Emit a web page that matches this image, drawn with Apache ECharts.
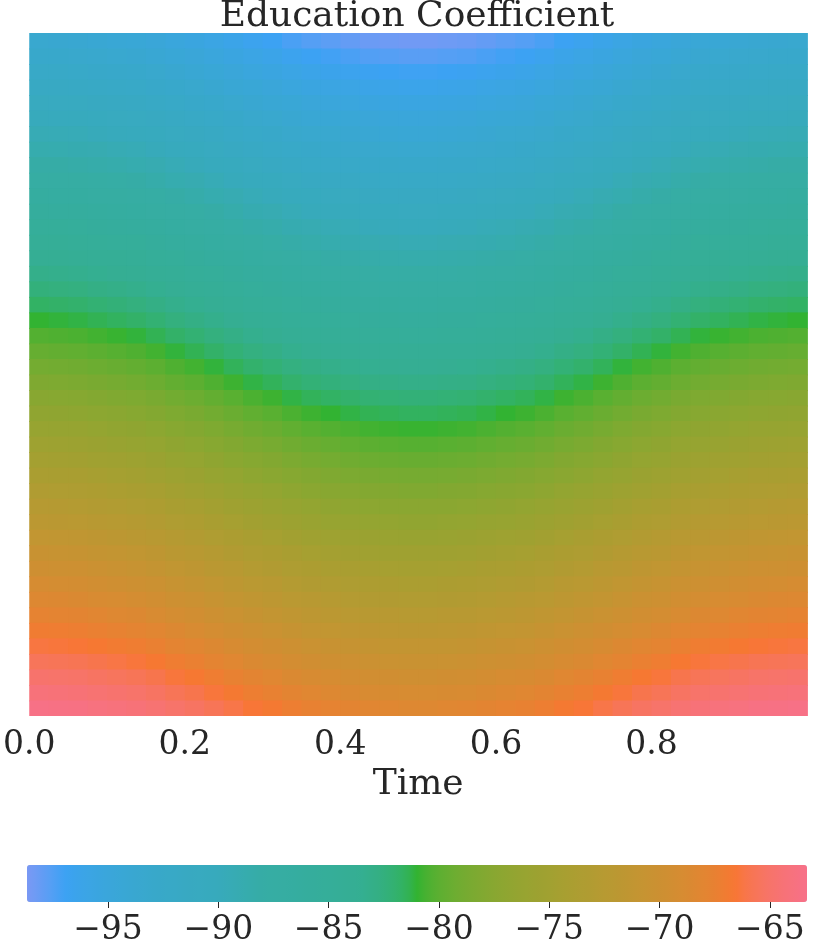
<!DOCTYPE html>
<html><head><meta charset="utf-8">
<script src="https://cdn.jsdelivr.net/npm/echarts@6/dist/echarts.min.js"></script>
<style>html,body{margin:0;padding:0;background:#fff}#c{width:813px;height:948px}</style>
</head><body><div id="c"></div>
<script>
const chartTitle = 'Education Coefficient';
const xName = 'Time';
const xCells = ['0.0125','0.0375','0.0625','0.0875','0.1125','0.1375','0.1625','0.1875','0.2125','0.2375','0.2625','0.2875','0.3125','0.3375','0.3625','0.3875','0.4125','0.4375','0.4625','0.4875','0.5125','0.5375','0.5625','0.5875','0.6125','0.6375','0.6625','0.6875','0.7125','0.7375','0.7625','0.7875','0.8125','0.8375','0.8625','0.8875','0.9125','0.9375','0.9625','0.9875'];
const yCells = [0,1,2,3,4,5,6,7,8,9,10,11,12,13,14,15,16,17,18,19,20,21,22,23,24,25,26,27,28,29,30,31,32,33,34,35,36,37,38,39,40,41,42,43];
const zRows = [
[-93.6,-93.7,-93.8,-94.0,-94.2,-94.4,-94.7,-95.1,-95.4,-95.8,-96.2,-96.6,-96.9,-97.3,-97.6,-97.8,-98.0,-98.2,-98.3,-98.4,-98.4,-98.3,-98.2,-98.0,-97.8,-97.6,-97.3,-96.9,-96.6,-96.2,-95.8,-95.4,-95.1,-94.7,-94.4,-94.2,-94.0,-93.8,-93.7,-93.6],
[-92.9,-93.0,-93.1,-93.3,-93.5,-93.7,-94.0,-94.4,-94.7,-95.1,-95.5,-95.9,-96.2,-96.6,-96.9,-97.1,-97.3,-97.5,-97.6,-97.7,-97.7,-97.6,-97.5,-97.3,-97.1,-96.9,-96.6,-96.2,-95.9,-95.5,-95.1,-94.7,-94.4,-94.0,-93.7,-93.5,-93.3,-93.1,-93.0,-92.9],
[-92.2,-92.3,-92.4,-92.6,-92.8,-93.0,-93.3,-93.7,-94.0,-94.4,-94.8,-95.2,-95.5,-95.9,-96.2,-96.4,-96.6,-96.8,-96.9,-97.0,-97.0,-96.9,-96.8,-96.6,-96.4,-96.2,-95.9,-95.5,-95.2,-94.8,-94.4,-94.0,-93.7,-93.3,-93.0,-92.8,-92.6,-92.4,-92.3,-92.2],
[-91.5,-91.6,-91.7,-91.9,-92.1,-92.3,-92.6,-93.0,-93.3,-93.7,-94.1,-94.5,-94.8,-95.2,-95.5,-95.7,-95.9,-96.1,-96.2,-96.3,-96.3,-96.2,-96.1,-95.9,-95.7,-95.5,-95.2,-94.8,-94.5,-94.1,-93.7,-93.3,-93.0,-92.6,-92.3,-92.1,-91.9,-91.7,-91.6,-91.5],
[-90.8,-90.9,-91.0,-91.2,-91.4,-91.6,-91.9,-92.3,-92.6,-93.0,-93.4,-93.8,-94.1,-94.5,-94.8,-95.0,-95.2,-95.4,-95.5,-95.6,-95.6,-95.5,-95.4,-95.2,-95.0,-94.8,-94.5,-94.1,-93.8,-93.4,-93.0,-92.6,-92.3,-91.9,-91.6,-91.4,-91.2,-91.0,-90.9,-90.8],
[-90.1,-90.2,-90.3,-90.5,-90.7,-90.9,-91.2,-91.6,-91.9,-92.3,-92.7,-93.1,-93.4,-93.8,-94.1,-94.3,-94.5,-94.7,-94.8,-94.9,-94.9,-94.8,-94.7,-94.5,-94.3,-94.1,-93.8,-93.4,-93.1,-92.7,-92.3,-91.9,-91.6,-91.2,-90.9,-90.7,-90.5,-90.3,-90.2,-90.1],
[-89.4,-89.5,-89.6,-89.8,-90.0,-90.2,-90.5,-90.9,-91.2,-91.6,-92.0,-92.4,-92.7,-93.1,-93.4,-93.6,-93.8,-94.0,-94.1,-94.2,-94.2,-94.1,-94.0,-93.8,-93.6,-93.4,-93.1,-92.7,-92.4,-92.0,-91.6,-91.2,-90.9,-90.5,-90.2,-90.0,-89.8,-89.6,-89.5,-89.4],
[-88.7,-88.8,-88.9,-89.1,-89.3,-89.5,-89.8,-90.2,-90.5,-90.9,-91.3,-91.7,-92.0,-92.4,-92.7,-92.9,-93.1,-93.3,-93.4,-93.5,-93.5,-93.4,-93.3,-93.1,-92.9,-92.7,-92.4,-92.0,-91.7,-91.3,-90.9,-90.5,-90.2,-89.8,-89.5,-89.3,-89.1,-88.9,-88.8,-88.7],
[-88.0,-88.1,-88.2,-88.4,-88.6,-88.8,-89.1,-89.5,-89.8,-90.2,-90.6,-91.0,-91.3,-91.7,-92.0,-92.2,-92.4,-92.6,-92.7,-92.8,-92.8,-92.7,-92.6,-92.4,-92.2,-92.0,-91.7,-91.3,-91.0,-90.6,-90.2,-89.8,-89.5,-89.1,-88.8,-88.6,-88.4,-88.2,-88.1,-88.0],
[-87.3,-87.4,-87.5,-87.7,-87.9,-88.1,-88.4,-88.8,-89.1,-89.5,-89.9,-90.3,-90.6,-91.0,-91.3,-91.5,-91.7,-91.9,-92.0,-92.1,-92.1,-92.0,-91.9,-91.7,-91.5,-91.3,-91.0,-90.6,-90.3,-89.9,-89.5,-89.1,-88.8,-88.4,-88.1,-87.9,-87.7,-87.5,-87.4,-87.3],
[-86.6,-86.7,-86.8,-87.0,-87.2,-87.4,-87.7,-88.1,-88.4,-88.8,-89.2,-89.6,-89.9,-90.3,-90.6,-90.8,-91.0,-91.2,-91.3,-91.4,-91.4,-91.3,-91.2,-91.0,-90.8,-90.6,-90.3,-89.9,-89.6,-89.2,-88.8,-88.4,-88.1,-87.7,-87.4,-87.2,-87.0,-86.8,-86.7,-86.6],
[-85.9,-86.0,-86.1,-86.3,-86.5,-86.7,-87.0,-87.4,-87.7,-88.1,-88.5,-88.9,-89.2,-89.6,-89.9,-90.1,-90.3,-90.5,-90.6,-90.7,-90.7,-90.6,-90.5,-90.3,-90.1,-89.9,-89.6,-89.2,-88.9,-88.5,-88.1,-87.7,-87.4,-87.0,-86.7,-86.5,-86.3,-86.1,-86.0,-85.9],
[-85.2,-85.3,-85.4,-85.6,-85.8,-86.0,-86.3,-86.7,-87.0,-87.4,-87.8,-88.2,-88.5,-88.9,-89.2,-89.4,-89.6,-89.8,-89.9,-90.0,-90.0,-89.9,-89.8,-89.6,-89.4,-89.2,-88.9,-88.5,-88.2,-87.8,-87.4,-87.0,-86.7,-86.3,-86.0,-85.8,-85.6,-85.4,-85.3,-85.2],
[-84.5,-84.6,-84.7,-84.9,-85.1,-85.3,-85.6,-86.0,-86.3,-86.7,-87.1,-87.5,-87.8,-88.2,-88.5,-88.7,-88.9,-89.1,-89.2,-89.3,-89.3,-89.2,-89.1,-88.9,-88.7,-88.5,-88.2,-87.8,-87.5,-87.1,-86.7,-86.3,-86.0,-85.6,-85.3,-85.1,-84.9,-84.7,-84.6,-84.5],
[-83.8,-83.9,-84.0,-84.2,-84.4,-84.6,-84.9,-85.3,-85.6,-86.0,-86.4,-86.8,-87.1,-87.5,-87.8,-88.0,-88.2,-88.4,-88.5,-88.6,-88.6,-88.5,-88.4,-88.2,-88.0,-87.8,-87.5,-87.1,-86.8,-86.4,-86.0,-85.6,-85.3,-84.9,-84.6,-84.4,-84.2,-84.0,-83.9,-83.8],
[-83.1,-83.2,-83.3,-83.5,-83.7,-83.9,-84.2,-84.6,-84.9,-85.3,-85.7,-86.1,-86.4,-86.8,-87.1,-87.3,-87.5,-87.7,-87.8,-87.9,-87.9,-87.8,-87.7,-87.5,-87.3,-87.1,-86.8,-86.4,-86.1,-85.7,-85.3,-84.9,-84.6,-84.2,-83.9,-83.7,-83.5,-83.3,-83.2,-83.1],
[-82.4,-82.5,-82.6,-82.8,-83.0,-83.2,-83.5,-83.9,-84.2,-84.6,-85.0,-85.4,-85.7,-86.1,-86.4,-86.6,-86.8,-87.0,-87.1,-87.2,-87.2,-87.1,-87.0,-86.8,-86.6,-86.4,-86.1,-85.7,-85.4,-85.0,-84.6,-84.2,-83.9,-83.5,-83.2,-83.0,-82.8,-82.6,-82.5,-82.4],
[-81.7,-81.8,-81.9,-82.1,-82.3,-82.5,-82.8,-83.2,-83.5,-83.9,-84.3,-84.7,-85.0,-85.4,-85.7,-85.9,-86.1,-86.3,-86.4,-86.5,-86.5,-86.4,-86.3,-86.1,-85.9,-85.7,-85.4,-85.0,-84.7,-84.3,-83.9,-83.5,-83.2,-82.8,-82.5,-82.3,-82.1,-81.9,-81.8,-81.7],
[-81.0,-81.1,-81.2,-81.4,-81.6,-81.8,-82.1,-82.5,-82.8,-83.2,-83.6,-84.0,-84.3,-84.7,-85.0,-85.2,-85.4,-85.6,-85.7,-85.8,-85.8,-85.7,-85.6,-85.4,-85.2,-85.0,-84.7,-84.3,-84.0,-83.6,-83.2,-82.8,-82.5,-82.1,-81.8,-81.6,-81.4,-81.2,-81.1,-81.0],
[-80.3,-80.4,-80.5,-80.7,-80.9,-81.1,-81.4,-81.8,-82.1,-82.5,-82.9,-83.3,-83.6,-84.0,-84.3,-84.5,-84.7,-84.9,-85.0,-85.1,-85.1,-85.0,-84.9,-84.7,-84.5,-84.3,-84.0,-83.6,-83.3,-82.9,-82.5,-82.1,-81.8,-81.4,-81.1,-80.9,-80.7,-80.5,-80.4,-80.3],
[-79.6,-79.7,-79.8,-80.0,-80.2,-80.4,-80.7,-81.1,-81.4,-81.8,-82.2,-82.6,-82.9,-83.3,-83.6,-83.8,-84.0,-84.2,-84.3,-84.4,-84.4,-84.3,-84.2,-84.0,-83.8,-83.6,-83.3,-82.9,-82.6,-82.2,-81.8,-81.4,-81.1,-80.7,-80.4,-80.2,-80.0,-79.8,-79.7,-79.6],
[-78.9,-79.0,-79.1,-79.3,-79.5,-79.7,-80.0,-80.4,-80.7,-81.1,-81.5,-81.9,-82.2,-82.6,-82.9,-83.1,-83.3,-83.5,-83.6,-83.7,-83.7,-83.6,-83.5,-83.3,-83.1,-82.9,-82.6,-82.2,-81.9,-81.5,-81.1,-80.7,-80.4,-80.0,-79.7,-79.5,-79.3,-79.1,-79.0,-78.9],
[-78.2,-78.3,-78.4,-78.6,-78.8,-79.0,-79.3,-79.7,-80.0,-80.4,-80.8,-81.2,-81.5,-81.9,-82.2,-82.4,-82.6,-82.8,-82.9,-83.0,-83.0,-82.9,-82.8,-82.6,-82.4,-82.2,-81.9,-81.5,-81.2,-80.8,-80.4,-80.0,-79.7,-79.3,-79.0,-78.8,-78.6,-78.4,-78.3,-78.2],
[-77.5,-77.6,-77.7,-77.9,-78.1,-78.3,-78.6,-79.0,-79.3,-79.7,-80.1,-80.5,-80.8,-81.2,-81.5,-81.7,-81.9,-82.1,-82.2,-82.3,-82.3,-82.2,-82.1,-81.9,-81.7,-81.5,-81.2,-80.8,-80.5,-80.1,-79.7,-79.3,-79.0,-78.6,-78.3,-78.1,-77.9,-77.7,-77.6,-77.5],
[-76.8,-76.9,-77.0,-77.2,-77.4,-77.6,-77.9,-78.3,-78.6,-79.0,-79.4,-79.8,-80.1,-80.5,-80.8,-81.0,-81.2,-81.4,-81.5,-81.6,-81.6,-81.5,-81.4,-81.2,-81.0,-80.8,-80.5,-80.1,-79.8,-79.4,-79.0,-78.6,-78.3,-77.9,-77.6,-77.4,-77.2,-77.0,-76.9,-76.8],
[-76.1,-76.2,-76.3,-76.5,-76.7,-76.9,-77.2,-77.6,-77.9,-78.3,-78.7,-79.1,-79.4,-79.8,-80.1,-80.3,-80.5,-80.7,-80.8,-80.9,-80.9,-80.8,-80.7,-80.5,-80.3,-80.1,-79.8,-79.4,-79.1,-78.7,-78.3,-77.9,-77.6,-77.2,-76.9,-76.7,-76.5,-76.3,-76.2,-76.1],
[-75.4,-75.5,-75.6,-75.8,-76.0,-76.2,-76.5,-76.9,-77.2,-77.6,-78.0,-78.4,-78.7,-79.1,-79.4,-79.6,-79.8,-80.0,-80.1,-80.2,-80.2,-80.1,-80.0,-79.8,-79.6,-79.4,-79.1,-78.7,-78.4,-78.0,-77.6,-77.2,-76.9,-76.5,-76.2,-76.0,-75.8,-75.6,-75.5,-75.4],
[-74.7,-74.8,-74.9,-75.1,-75.3,-75.5,-75.8,-76.2,-76.5,-76.9,-77.3,-77.7,-78.0,-78.4,-78.7,-78.9,-79.1,-79.3,-79.4,-79.5,-79.5,-79.4,-79.3,-79.1,-78.9,-78.7,-78.4,-78.0,-77.7,-77.3,-76.9,-76.5,-76.2,-75.8,-75.5,-75.3,-75.1,-74.9,-74.8,-74.7],
[-74.0,-74.1,-74.2,-74.4,-74.6,-74.8,-75.1,-75.5,-75.8,-76.2,-76.6,-77.0,-77.3,-77.7,-78.0,-78.2,-78.4,-78.6,-78.7,-78.8,-78.8,-78.7,-78.6,-78.4,-78.2,-78.0,-77.7,-77.3,-77.0,-76.6,-76.2,-75.8,-75.5,-75.1,-74.8,-74.6,-74.4,-74.2,-74.1,-74.0],
[-73.3,-73.4,-73.5,-73.7,-73.9,-74.1,-74.4,-74.8,-75.1,-75.5,-75.9,-76.3,-76.6,-77.0,-77.3,-77.5,-77.7,-77.9,-78.0,-78.1,-78.1,-78.0,-77.9,-77.7,-77.5,-77.3,-77.0,-76.6,-76.3,-75.9,-75.5,-75.1,-74.8,-74.4,-74.1,-73.9,-73.7,-73.5,-73.4,-73.3],
[-72.6,-72.7,-72.8,-73.0,-73.2,-73.4,-73.7,-74.1,-74.4,-74.8,-75.2,-75.6,-75.9,-76.3,-76.6,-76.8,-77.0,-77.2,-77.3,-77.4,-77.4,-77.3,-77.2,-77.0,-76.8,-76.6,-76.3,-75.9,-75.6,-75.2,-74.8,-74.4,-74.1,-73.7,-73.4,-73.2,-73.0,-72.8,-72.7,-72.6],
[-71.9,-72.0,-72.1,-72.3,-72.5,-72.7,-73.0,-73.4,-73.7,-74.1,-74.5,-74.9,-75.2,-75.6,-75.9,-76.1,-76.3,-76.5,-76.6,-76.7,-76.7,-76.6,-76.5,-76.3,-76.1,-75.9,-75.6,-75.2,-74.9,-74.5,-74.1,-73.7,-73.4,-73.0,-72.7,-72.5,-72.3,-72.1,-72.0,-71.9],
[-71.2,-71.3,-71.4,-71.6,-71.8,-72.0,-72.3,-72.7,-73.0,-73.4,-73.8,-74.2,-74.5,-74.9,-75.2,-75.4,-75.6,-75.8,-75.9,-76.0,-76.0,-75.9,-75.8,-75.6,-75.4,-75.2,-74.9,-74.5,-74.2,-73.8,-73.4,-73.0,-72.7,-72.3,-72.0,-71.8,-71.6,-71.4,-71.3,-71.2],
[-70.5,-70.6,-70.7,-70.9,-71.1,-71.3,-71.6,-72.0,-72.3,-72.7,-73.1,-73.5,-73.8,-74.2,-74.5,-74.7,-74.9,-75.1,-75.2,-75.3,-75.3,-75.2,-75.1,-74.9,-74.7,-74.5,-74.2,-73.8,-73.5,-73.1,-72.7,-72.3,-72.0,-71.6,-71.3,-71.1,-70.9,-70.7,-70.6,-70.5],
[-69.8,-69.9,-70.0,-70.2,-70.4,-70.6,-70.9,-71.3,-71.6,-72.0,-72.4,-72.8,-73.1,-73.5,-73.8,-74.0,-74.2,-74.4,-74.5,-74.6,-74.6,-74.5,-74.4,-74.2,-74.0,-73.8,-73.5,-73.1,-72.8,-72.4,-72.0,-71.6,-71.3,-70.9,-70.6,-70.4,-70.2,-70.0,-69.9,-69.8],
[-69.1,-69.2,-69.3,-69.5,-69.7,-69.9,-70.2,-70.6,-70.9,-71.3,-71.7,-72.1,-72.4,-72.8,-73.1,-73.3,-73.5,-73.7,-73.8,-73.9,-73.9,-73.8,-73.7,-73.5,-73.3,-73.1,-72.8,-72.4,-72.1,-71.7,-71.3,-70.9,-70.6,-70.2,-69.9,-69.7,-69.5,-69.3,-69.2,-69.1],
[-68.4,-68.5,-68.6,-68.8,-69.0,-69.2,-69.5,-69.9,-70.2,-70.6,-71.0,-71.4,-71.7,-72.1,-72.4,-72.6,-72.8,-73.0,-73.1,-73.2,-73.2,-73.1,-73.0,-72.8,-72.6,-72.4,-72.1,-71.7,-71.4,-71.0,-70.6,-70.2,-69.9,-69.5,-69.2,-69.0,-68.8,-68.6,-68.5,-68.4],
[-67.7,-67.8,-67.9,-68.1,-68.3,-68.5,-68.8,-69.2,-69.5,-69.9,-70.3,-70.7,-71.0,-71.4,-71.7,-71.9,-72.1,-72.3,-72.4,-72.5,-72.5,-72.4,-72.3,-72.1,-71.9,-71.7,-71.4,-71.0,-70.7,-70.3,-69.9,-69.5,-69.2,-68.8,-68.5,-68.3,-68.1,-67.9,-67.8,-67.7],
[-67.0,-67.1,-67.2,-67.4,-67.6,-67.8,-68.1,-68.5,-68.8,-69.2,-69.6,-70.0,-70.3,-70.7,-71.0,-71.2,-71.4,-71.6,-71.7,-71.8,-71.8,-71.7,-71.6,-71.4,-71.2,-71.0,-70.7,-70.3,-70.0,-69.6,-69.2,-68.8,-68.5,-68.1,-67.8,-67.6,-67.4,-67.2,-67.1,-67.0],
[-66.3,-66.4,-66.5,-66.7,-66.9,-67.1,-67.4,-67.8,-68.1,-68.5,-68.9,-69.3,-69.6,-70.0,-70.3,-70.5,-70.7,-70.9,-71.0,-71.1,-71.1,-71.0,-70.9,-70.7,-70.5,-70.3,-70.0,-69.6,-69.3,-68.9,-68.5,-68.1,-67.8,-67.4,-67.1,-66.9,-66.7,-66.5,-66.4,-66.3],
[-65.6,-65.7,-65.8,-66.0,-66.2,-66.4,-66.7,-67.1,-67.4,-67.8,-68.2,-68.6,-68.9,-69.3,-69.6,-69.8,-70.0,-70.2,-70.3,-70.4,-70.4,-70.3,-70.2,-70.0,-69.8,-69.6,-69.3,-68.9,-68.6,-68.2,-67.8,-67.4,-67.1,-66.7,-66.4,-66.2,-66.0,-65.8,-65.7,-65.6],
[-64.9,-65.0,-65.1,-65.3,-65.5,-65.7,-66.0,-66.4,-66.7,-67.1,-67.5,-67.9,-68.2,-68.6,-68.9,-69.1,-69.3,-69.5,-69.6,-69.7,-69.7,-69.6,-69.5,-69.3,-69.1,-68.9,-68.6,-68.2,-67.9,-67.5,-67.1,-66.7,-66.4,-66.0,-65.7,-65.5,-65.3,-65.1,-65.0,-64.9],
[-64.2,-64.3,-64.4,-64.6,-64.8,-65.0,-65.3,-65.7,-66.0,-66.4,-66.8,-67.2,-67.5,-67.9,-68.2,-68.4,-68.6,-68.8,-68.9,-69.0,-69.0,-68.9,-68.8,-68.6,-68.4,-68.2,-67.9,-67.5,-67.2,-66.8,-66.4,-66.0,-65.7,-65.3,-65.0,-64.8,-64.6,-64.4,-64.3,-64.2],
[-63.5,-63.6,-63.7,-63.9,-64.1,-64.3,-64.6,-65.0,-65.3,-65.7,-66.1,-66.5,-66.8,-67.2,-67.5,-67.7,-67.9,-68.1,-68.2,-68.3,-68.3,-68.2,-68.1,-67.9,-67.7,-67.5,-67.2,-66.8,-66.5,-66.1,-65.7,-65.3,-65.0,-64.6,-64.3,-64.1,-63.9,-63.7,-63.6,-63.5]
];
const colorbarTicks = [-95,-90,-85,-80,-75,-70,-65];
const zMin = -98.67, zMax = -63.32;

// colour style: HUSL hue anchors along the colour scale
const hueStops = [[-98.67,258],[-97.7,250],[-95.6,238],[-92.6,222],[-90,210],[-88,185],[-83.6,165],[-81,127.6],[-66.6,26],[-63.32,3.6]];
function huslToHex(h, s, l){
  const M=[[3.240969941904521,-1.537383177570093,-0.498610760293],[-0.96924363628087,1.87596750150772,0.041555057407175],[0.055630079696993,-0.20397695888897,1.056971514242878]];
  const refU=0.19783000664283, refV=0.46831999493879, kappa=903.2962962, eps=0.0088564516;
  const sub1=Math.pow(l+16,3)/1560896, sub2= sub1>eps? sub1 : l/kappa;
  const hr=h/180*Math.PI; let maxC=Infinity;
  for(let c=0;c<3;c++){const m1=M[c][0],m2=M[c][1],m3=M[c][2];
    for(let t=0;t<2;t++){
      const top1=(284517*m1-94839*m3)*sub2;
      const top2=(838422*m3+769860*m2+731718*m1)*l*sub2-769860*t*l;
      const bottom=(632260*m3-126452*m2)*sub2+126452*t;
      const slope=top1/bottom, intercept=top2/bottom;
      const len=intercept/(Math.sin(hr)-slope*Math.cos(hr));
      if(len>=0 && len<maxC) maxC=len;
    }}
  const C=maxC/100*s;
  const U=Math.cos(hr)*C, V=Math.sin(hr)*C;
  const varU=U/(13*l)+refU, varV=V/(13*l)+refV;
  const Y = l<=8 ? l/kappa : Math.pow((l+16)/116,3);
  const X = 0-(9*Y*varU)/((varU-4)*varV-varU*varV);
  const Z=(9*Y-15*varV*Y-varV*X)/(3*varV);
  const rgb=M.map(r=>{let v=r[0]*X+r[1]*Y+r[2]*Z; v= v<=0.0031308?12.92*v:1.055*Math.pow(v,1/2.4)-0.055; v=Math.min(1,Math.max(0,v)); return Math.round(v*255);});
  return '#'+rgb.map(v=>v.toString(16).padStart(2,'0')).join('');
}
function hueAt(v){
  for(let i=0;i<hueStops.length-1;i++){
    const a=hueStops[i], b=hueStops[i+1];
    if(v<=b[0]) return a[1]+(b[1]-a[1])*(v-a[0])/(b[0]-a[0]);
  }
  return hueStops[hueStops.length-1][1];
}
const palette=[];
const NSTOP=160;
for(let k=0;k<=NSTOP;k++){ const v=zMin+(zMax-zMin)*k/NSTOP; palette.push(huslToHex(hueAt(v), 89.1, 64.35)); }

const heat=[];
zRows.forEach((row,j)=>row.forEach((v,i)=>heat.push([i,j,v])));

const FONT='DejaVu Serif';
const TXT='#262626';
const chart=echarts.init(document.getElementById('c'),null,{renderer:'canvas'});
chart.setOption({
  backgroundColor:'#ffffff',
  animation:false,
  graphic:[{type:'text',x:417,y:-1,style:{text:chartTitle,fill:TXT,font:'36px "DejaVu Serif"',textAlign:'center',textVerticalAlign:'top'}}],
  grid:[{left:27,top:33,width:780,height:683},{left:27,top:865,width:780,height:37}],
  xAxis:[
    {type:'category',gridIndex:0,data:xCells,show:false,position:'top'},
    {type:'value',gridIndex:0,min:0,max:1,interval:0.2,position:'bottom',
     axisLine:{show:false},axisTick:{show:false},splitLine:{show:false},
     axisLabel:{showMaxLabel:false,formatter:v=>v.toFixed(1),fontSize:33,fontFamily:FONT,color:TXT,margin:13},
     name:xName,nameLocation:'middle',nameGap:49,nameTextStyle:{fontSize:36,fontFamily:FONT,color:TXT}},
    {type:'value',gridIndex:1,min:zMin,max:zMax,position:'bottom',
     axisLine:{show:false},splitLine:{show:false},
     axisTick:{show:true,customValues:colorbarTicks,length:6,lineStyle:{color:TXT,width:1}},
     axisLabel:{customValues:colorbarTicks,formatter:v=>String(v).replace('-','\u2212'),fontSize:33,fontFamily:FONT,color:TXT,margin:12}}
  ],
  yAxis:[
    {type:'category',gridIndex:0,data:yCells,inverse:true,show:false},
    {type:'value',gridIndex:1,show:false}
  ],
  visualMap:{type:'continuous',min:zMin,max:zMax,seriesIndex:0,dimension:2,orient:'horizontal',
    left:27,top:865,itemWidth:37,itemHeight:780,padding:0,calculable:false,hoverLink:false,
    inRange:{color:palette}},
  series:[{type:'custom',xAxisIndex:0,yAxisIndex:0,data:heat,clip:true,
    encode:{x:0,y:1},
    renderItem:function(params,api){
      const c=api.coord([api.value(0),api.value(1)]);
      const s=api.size([1,1]);
      return {type:'rect',shape:{x:c[0]-s[0]/2,y:c[1]-s[1]/2,width:s[0]+0.9,height:s[1]+0.9},
        style:{fill:api.visual('color')}};
    }}]
});
</script></body></html>
